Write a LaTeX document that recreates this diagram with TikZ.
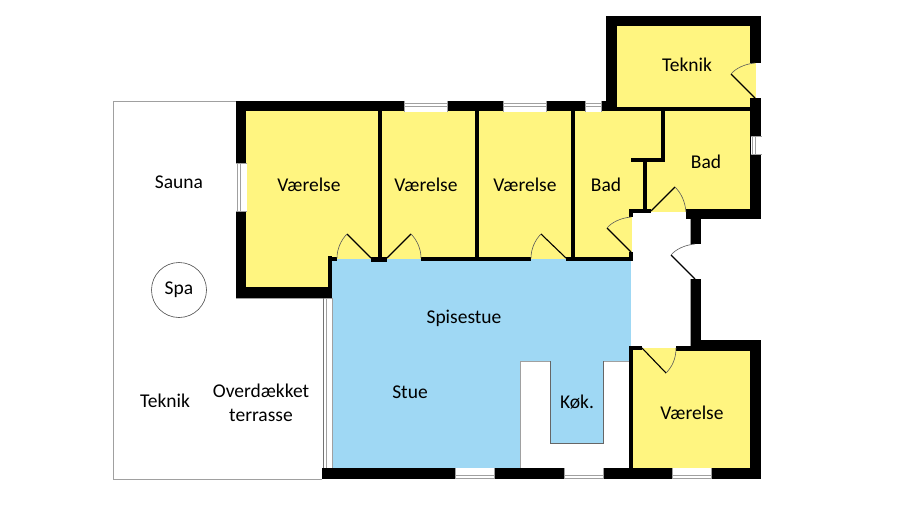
\documentclass[tikz,border=0pt]{standalone}
\usepackage{fontspec}
\setmainfont{Carlito}
\definecolor{roomy}{HTML}{FFF580}
\definecolor{roomb}{HTML}{9FD8F4}
\definecolor{edge}{HTML}{A0A0A0}
\tikzset{
  wall/.style={fill=black,draw=none},
  yroom/.style={fill=roomy,draw=none},
  broom/.style={fill=roomb,draw=none},
  winbox/.style={fill=white,draw=none},
  winline/.style={draw=edge,line width=1pt},
  leaf/.style={draw=black,line width=1.1pt},
  swing/.style={draw=black!65,line width=0.6pt},
  outline/.style={draw=edge,line width=0.9pt},
  lbl/.style={font=\fontsize{19.5}{23}\selectfont,text=black,align=center,inner sep=0pt}
}
% horizontal window: x1, x2, top y, first line offset
\newcommand{\hwin}[4]{%
  \fill[winbox] (#1,#3) rectangle (#2,#3+11);
  \draw[winline] (#1,#3+#4) -- (#2,#3+#4) (#1,#3+#4+3) -- (#2,#3+#4+3);
  \draw[edge,line width=0.5pt] (#1,#3) -- (#1,#3+11) (#2,#3) -- (#2,#3+11);}
% vertical window: y1, y2, left x, first line offset
\newcommand{\vwin}[4]{%
  \fill[winbox] (#3,#1) rectangle (#3+11,#2);
  \draw[winline] (#3+#4,#1) -- (#3+#4,#2) (#3+#4+3,#1) -- (#3+#4+3,#2);
  \draw[edge,line width=0.5pt] (#3,#1) -- (#3+11,#1) (#3,#2) -- (#3+11,#2);}
\begin{document}
\begin{tikzpicture}[x=1pt,y=-1pt]
\useasboundingbox (0,0) rectangle (900,506);
\fill[white] (0,0) rectangle (900,506);
% terrace outline
\draw[outline] (236,101.5) -- (113,101.5) -- (113,479) -- (322,479);
\draw[outline] (236,298.5) -- (332,298.5);
\draw[draw=black!70,line width=0.6pt,fill=white] (179,290) circle (27.5);
% rooms
\fill[yroom] (617,26) rectangle (756,108);
\fill[yroom] (661,110) rectangle (750,212);
\fill[yroom] (646,160) rectangle (665,212);
\fill[yroom] (246,111) rectangle (330,287);
\fill[yroom] (330,111) rectangle (632,259);
\fill[yroom] (632,111) rectangle (662,212);
\fill[yroom] (632,348) rectangle (750,468);
\fill[broom] (332,259) rectangle (631,468);
% kitchen cut-out
\filldraw[fill=white,draw=edge,line width=0.7pt] (520.5,468) -- (520.5,361) -- (550.5,361) -- (550.5,443.5) -- (603,443.5) -- (603,361) -- (631,361) -- (631,468);
\draw[black!60,line width=0.4pt] (550.5,361) -- (550.5,443.5) -- (603,443.5) -- (603,361);
% hall edge
\draw[edge,line width=0.7pt] (690.5,219) -- (690.5,244) (690.5,279) -- (690.5,346);
% glazing
\draw[draw=black!55,line width=1.2pt] (323.5,298) -- (323.5,468);
\draw[draw=edge,line width=1pt] (326.5,298) -- (326.5,468);
\draw[draw=edge,line width=0.5pt] (332,298) -- (332,468);
% top wing walls
\fill[wall] (606,16) rectangle (761,26);
\fill[wall] (606,16) rectangle (617,111);
\fill[wall] (750,16) rectangle (761,63);
\fill[wall] (750,98) rectangle (761,219);
\fill[wall] (601,107) rectangle (761,111);
% main top wall
\fill[wall] (236,101) rectangle (606,111);
% partitions
\fill[wall] (236,101) rectangle (246,298);
\fill[wall] (236,287) rectangle (332,298);
\fill[wall] (328,256) rectangle (332,298);
\fill[wall] (378,111) rectangle (382,258);
\fill[wall] (475,111) rectangle (479,258);
\fill[wall] (571,111) rectangle (575,258);
\fill[wall] (661,111) rectangle (665,162);
\fill[wall] (631,158) rectangle (665,162);
\fill[wall] (643,162) rectangle (647,210);
\fill[wall] (629,209) rectangle (651,213);
\fill[wall] (629,209) rectangle (633,217);
\fill[wall] (629,252) rectangle (633,261);
% wall under bedrooms
\fill[wall] (328,257) rectangle (337,261);
\fill[wall] (371,257) rectangle (387,262);
\fill[wall] (421,257) rectangle (531,261);
\fill[wall] (566,257) rectangle (633,261);
% hall walls
\fill[wall] (686,209) rectangle (761,219);
\fill[wall] (691,219) rectangle (701,244);
\fill[wall] (691,279) rectangle (701,341);
\fill[wall] (691,340) rectangle (761,351);
\fill[wall] (676,346) rectangle (691,351);
\fill[wall] (629,346) rectangle (642,350);
\fill[wall] (629,346) rectangle (633,468);
\fill[wall] (750,340) rectangle (761,479);
\fill[wall] (322,468) rectangle (761,479);
% windows
\hwin{404}{447}{100.5}{3}
\hwin{503}{546}{100.5}{3}
\hwin{585}{601}{100.5}{3}
\hwin{455}{494}{468}{7}
\hwin{564}{603}{468}{7}
\hwin{672}{711}{468}{7}
\vwin{163}{211}{236}{1.5}
\vwin{136}{154}{750.5}{2}
% doors
\draw[leaf] (755,98) -- (731,74);
\draw[swing] (731,74) .. controls (736,68) and (745,64) .. (755,63);
\draw[leaf] (651,211) -- (675,187);
\draw[swing] (675,187) .. controls (681,193) and (685,201) .. (686,212);
\draw[leaf] (631,252) -- (607,228);
\draw[swing] (607,228) .. controls (612,222) and (621,218) .. (631,217);
\draw[leaf] (695,279) -- (671,255);
\draw[swing] (671,255) .. controls (676,249) and (685,245) .. (695,244);
\draw[leaf] (642,348) -- (666,373);
\draw[swing] (666,373) .. controls (672,367) and (676,359) .. (676,348);
\draw[leaf] (371,258) -- (347,234);
\draw[swing] (347,234) .. controls (341,240) and (337,249) .. (337,258);
\draw[leaf] (387,258) -- (411,234);
\draw[swing] (411,234) .. controls (417,240) and (421,249) .. (421,258);
\draw[leaf] (566,258) -- (541,234);
\draw[swing] (541,234) .. controls (535,240) and (531,249) .. (531,258);
% labels
\node[lbl] (sauna) at (179,182) {Sauna};
\node[lbl] (v1) at (309,185) {Værelse};
\node[lbl] (v2) at (426,185) {Værelse};
\node[lbl] (v3) at (525,185) {Værelse};
\node[lbl] (bad1) at (606,185) {Bad};
\node[lbl] (bad2) at (706,162) {Bad};
\node[lbl] (tek1) at (687,65) {Teknik};
\node[lbl] (spa) at (179,290) {Spa};
\node[lbl] (spis) at (464,318) {Spisestue};
\node[lbl] (stue) at (410,392) {Stue};
\node[lbl] (kok) at (577,402) {Køk.};
\node[lbl] (v4) at (692,413) {Værelse};
\node[lbl] (tek2) at (165,401) {Teknik};
\node[lbl] (ovr) at (261,403) {Overdækket\\[1pt]terrasse};
\end{tikzpicture}
\end{document}
